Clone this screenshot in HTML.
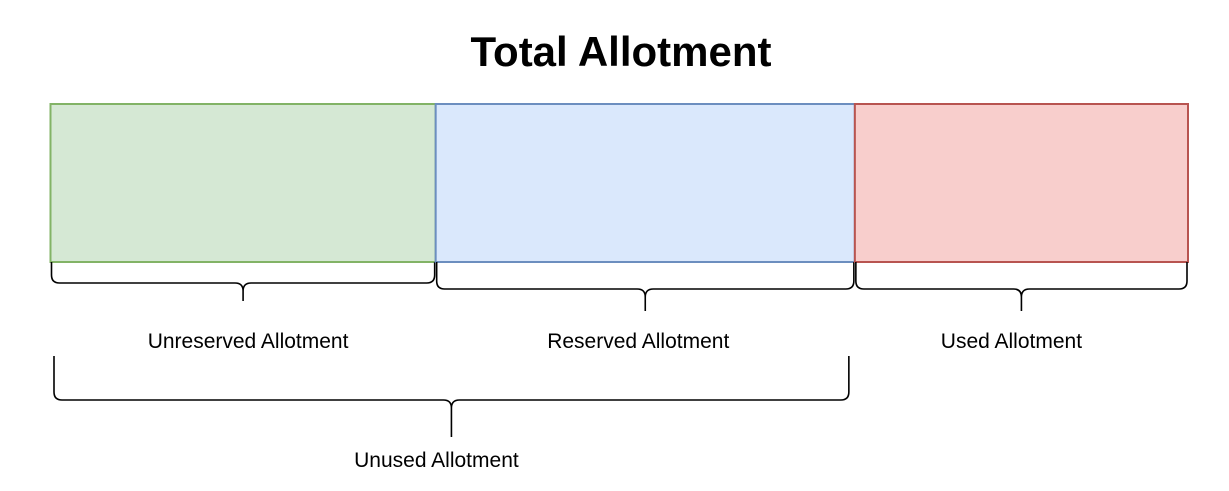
<!DOCTYPE html>
<html><head><meta charset="utf-8"><style>
html,body{margin:0;padding:0;background:#fff;}
svg{display:block;font-family:"Liberation Sans",sans-serif;}
</style></head><body>
<svg id="chart" width="1229" height="491" viewBox="0 0 1229 491">
<text x="621" y="66" text-anchor="middle" font-size="42" font-weight="bold" fill="#000">Total Allotment</text>
</svg>
<script>
const segmentLabels = ["Unreserved Allotment", "Reserved Allotment", "Used Allotment"];
const segmentValues = [385, 419, 333];
const segmentFills = ["#d5e8d4", "#dae8fc", "#f8cecc"];
const segmentStrokes = ["#82b366", "#6c8ebf", "#b85450"];
const groupLabel = "Unused Allotment";

const svg = document.getElementById('chart');
const NS = 'http://www.w3.org/2000/svg';
const total = segmentValues.reduce((a,b)=>a+b,0);
const x0 = 50.5, x1 = 1188;
const xs = v => x0 + (v/total)*(x1-x0);
const barTop = 104, barBot = 262;
const labelNudge = [5, -7, -10];

function mk(tag, attrs){ const e=document.createElementNS(NS,tag); for(const k in attrs) e.setAttribute(k,attrs[k]); svg.appendChild(e); return e; }
function brace(a,b,yt,yl,tip){
  const m=(a+b)/2, r=Math.min(8,(yl-yt));
  return `M${a},${yt} L${a},${yl-r} Q${a},${yl} ${a+r},${yl} L${m-r},${yl} Q${m},${yl} ${m},${yl+r} L${m},${tip} M${m},${yl+r} Q${m},${yl} ${m+r},${yl} L${b-r},${yl} Q${b},${yl} ${b},${yl-r} L${b},${yt}`;
}

let cum = 0;
segmentValues.forEach((v,i)=>{
  const a = xs(cum), b = xs(cum+v);
  const r = mk('rect',{x:a,y:barTop,width:b-a,height:barBot-barTop,fill:segmentFills[i],stroke:segmentStrokes[i],'stroke-width':2});
  
  
  const yl = i===0 ? 283 : 289, tip = i===0 ? 301 : 311;
  const p = mk('path',{d:brace(a+1,b-1,barBot,yl,tip),fill:'none',stroke:'#000','stroke-width':1.6});
  
  
  const t = mk('text',{x:(a+b)/2+labelNudge[i],y:348,'text-anchor':'middle','font-size':21,fill:'#000'});
  t.textContent = segmentLabels[i];
  
  
  cum += v;
});

const ua = xs(0)+3.5, ub = xs(segmentValues[0]+segmentValues[1])-6;
const bp = mk('path',{d:brace(ua,ub,356,400,437),fill:'none',stroke:'#000','stroke-width':1.6});


const ut = mk('text',{x:(ua+ub)/2-15,y:467,'text-anchor':'middle','font-size':21,fill:'#000'});
ut.textContent = groupLabel;


</script>
</body></html>
